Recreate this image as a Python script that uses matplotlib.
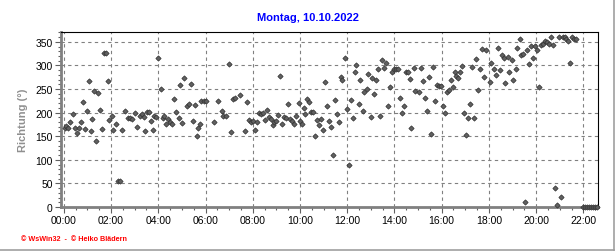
import matplotlib.pyplot as plt
from matplotlib.lines import Line2D
from matplotlib.ticker import MultipleLocator

plt.rcParams['font.family'] = ['Liberation Sans', 'DejaVu Sans']

# Windrichtung, Zeit in Stunden
hours = [0.03, 0.11, 0.18, 0.28, 0.38, 0.46, 0.55, 0.65, 0.73, 0.80, 0.90, 0.99,
         1.06, 1.14, 1.18, 1.28, 1.37, 1.45, 1.52, 1.61, 1.70, 1.79, 1.86, 1.93,
         2.03, 2.10, 2.20, 2.28, 2.37, 2.45, 2.61, 2.70, 2.79, 2.87, 3.03, 3.11,
         3.21, 3.30, 3.38, 3.42, 3.52, 3.61, 3.68, 3.76, 3.83, 3.92, 4.00, 4.10,
         4.18, 4.25, 4.34, 4.42, 4.51, 4.59, 4.68, 4.77, 4.86, 4.94, 5.01, 5.11,
         5.20, 5.28, 5.37, 5.45, 5.54, 5.62, 5.68, 5.75, 5.83, 5.92, 6.00, 6.34,
         6.51, 6.68, 6.76, 6.85, 7.01, 7.10, 7.18, 7.27, 7.44, 7.69, 7.77, 7.86,
         7.94, 8.03, 8.10, 8.17, 8.25, 8.34, 8.42, 8.51, 8.59, 8.68, 8.76, 8.85,
         8.89, 9.00, 9.08, 9.17, 9.25, 9.34, 9.42, 9.51, 9.59, 9.68, 9.75, 9.85,
         9.94, 10.00, 10.08, 10.15, 10.23, 10.31, 10.39, 10.48, 10.56, 10.65, 10.73, 10.82,
         10.90, 10.99, 11.07, 11.15, 11.24, 11.32, 11.41, 11.49, 11.58, 11.66, 11.72, 11.80,
         11.92, 12.00, 12.08, 12.17, 12.25, 12.34, 12.39, 12.48, 12.56, 12.65, 12.73, 12.82,
         12.90, 12.99, 13.07, 13.14, 13.23, 13.31, 13.39, 13.48, 13.56, 13.65, 13.73, 13.82,
         13.90, 13.99, 14.07, 14.15, 14.24, 14.32, 14.41, 14.49, 14.58, 14.66, 14.70, 14.82,
         14.87, 15.03, 15.13, 15.21, 15.30, 15.38, 15.46, 15.55, 15.63, 15.72, 15.80, 15.89,
         15.97, 16.06, 16.14, 16.23, 16.31, 16.39, 16.48, 16.56, 16.62, 16.70, 16.79, 16.87,
         16.94, 17.03, 17.11, 17.20, 17.28, 17.37, 17.45, 17.54, 17.62, 17.69, 17.79, 17.87,
         18.03, 18.11, 18.20, 18.28, 18.37, 18.45, 18.54, 18.62, 18.70, 18.79, 18.87, 18.96,
         19.04, 19.13, 19.21, 19.30, 19.35, 19.44, 19.52, 19.61, 19.69, 19.77, 19.86, 19.94,
         20.03, 20.11, 20.20, 20.28, 20.37, 20.45, 20.54, 20.62, 20.70, 20.79, 20.87, 20.96,
         21.04, 21.13, 21.21, 21.27, 21.35, 21.44, 21.52, 21.61, 21.69,
         22.00, 22.08, 22.17, 22.25, 22.33, 22.42, 22.50, 22.58]
richtung = [168, 172, 168, 180, 196, 167, 156, 167, 180, 222, 165, 203,
            266, 160, 186, 246, 139, 241, 205, 165, 327, 327, 266, 184,
            192, 163, 175, 55, 55, 163, 203, 188, 188, 186, 199, 169,
            193, 196, 190, 160, 201, 201, 182, 163, 192, 191, 315, 250,
            188, 192, 175, 186, 180, 175, 229, 201, 188, 258, 177, 273,
            213, 218, 261, 182, 216, 150, 167, 175, 224, 224, 224, 180,
            224, 203, 192, 192, 302, 158, 229, 231, 237, 160, 222, 184,
            180, 182, 163, 180, 199, 196, 199, 184, 205, 190, 186, 173,
            180, 182, 194, 277, 175, 190, 188, 218, 186, 182, 175, 192,
            220, 182, 175, 210, 196, 229, 222, 201, 201, 150, 184, 173,
            186, 163, 264, 215, 182, 169, 111, 226, 196, 180, 275, 270,
            315, 207, 89, 226, 188, 285, 301, 218, 270, 203, 244, 249,
            281, 190, 273, 239, 269, 292, 192, 311, 294, 306, 215, 254,
            285, 292, 292, 292, 232, 199, 215, 285, 287, 272, 167, 294,
            245, 243, 294, 266, 232, 203, 275, 154, 296, 224, 258, 256,
            256, 215, 199, 243, 247, 270, 254, 287, 277, 273, 287, 299,
            199, 152, 188, 218, 296, 188, 313, 247, 292, 334, 276, 332,
            264, 306, 292, 279, 336, 290, 323, 315, 263, 318, 285, 311,
            269, 292, 336, 356, 323, 325, 11, 332, 302, 342, 315, 342,
            332, 254, 344, 346, 351, 349, 346, 361, 344, 40, 5, 361,
            22, 361, 361, 357, 351, 305, 361, 357, 356,
            0, 0, 0, 0, 0, 0, 0, 0]

tick_hours = list(range(0, 23, 2))
tick_labels = ['%02d:00' % h for h in tick_hours]

fig = plt.figure(figsize=(6.16, 2.53), dpi=100)
ax = fig.add_axes([0.099, 0.178, 0.871, 0.69])

ax.plot(hours, richtung, linestyle='none', marker='D', markersize=2.7,
        markerfacecolor='#606060', markeredgecolor='#303030', markeredgewidth=0.5,
        clip_on=False, zorder=3)

ax.set_xlim(-0.12, 22.6)
ax.set_ylim(0, 370)
ax.set_xticks(tick_hours)
ax.set_xticklabels(tick_labels)
ax.xaxis.set_minor_locator(MultipleLocator(0.5))
ax.set_yticks(range(0, 351, 50))
ax.yaxis.set_minor_locator(MultipleLocator(10))

ax.grid(True, which='major', color='#808080', linestyle=(0, (3, 3)), linewidth=0.8)
ax.set_axisbelow(True)

for side in ['left', 'bottom']:
    ax.spines[side].set_color('#808080')
    ax.spines[side].set_linewidth(2)
for side in ['top', 'right']:
    ax.spines[side].set_color('black')
    ax.spines[side].set_linewidth(0.8)

ax.tick_params(which='major', length=4, width=0.8, color='#606060', labelsize=7.5, pad=2)
ax.tick_params(which='minor', length=2, width=0.8, color='#606060')

ax.set_ylabel('Richtung (°)', color='#909090', fontsize=8, fontweight='bold', labelpad=5)

fig.text(0.5, 0.93, 'Montag, 10.10.2022', color='#0000FF', fontsize=8,
         fontweight='bold', ha='center', va='center')
fig.text(0.034, 0.055, '© WsWin32  -  © Heiko Blädern', color='#FF0000', fontsize=5.2,
         fontweight='bold', ha='left', va='center')

# grauer Rahmen unten und rechts
fig.add_artist(Line2D([0, 0.997], [0.008, 0.008], color='#a0a0a0', linewidth=1.2,
                      transform=fig.transFigure))
fig.add_artist(Line2D([0.997, 0.997], [0.008, 1], color='#a0a0a0', linewidth=1.2,
                      transform=fig.transFigure))

fig.savefig('out.png', dpi=100)
